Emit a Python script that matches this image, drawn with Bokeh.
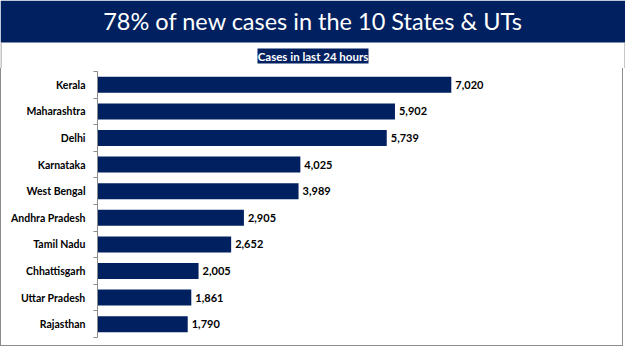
from bokeh.plotting import figure
from bokeh.layouts import column
from bokeh.models import (Range1d, LinearAxis, FixedTicker, CustomJSTickFormatter,
                          ColumnDataSource)
from bokeh.core.properties import value
from bokeh.embed import file_html
from bokeh.resources import INLINE

title_text = "78% of new cases in the 10 States & UTs"
subtitle_text = "Cases in last 24 hours"
states = ["Kerala", "Maharashtra", "Delhi", "Karnataka", "West Bengal",
          "Andhra Pradesh", "Tamil Nadu", "Chhattisgarh", "Uttar Pradesh", "Rajasthan"]
cases = [7020, 5902, 5739, 4025, 3989, 2905, 2652, 2005, 1861, 1790]

NAVY = "#002060"
GRAY = "#8c8c8c"
FONT = "Lato"

# ---------------- header (pixel-like coordinates, y downwards) ----------------
W, HH = 625, 68
h = figure(width=W, height=HH, output_backend="svg", toolbar_location=None,
           x_range=Range1d(0, W), y_range=Range1d(HH, 0),
           x_axis_location=None, y_axis_location=None,
           min_border=0, outline_line_color=None, frame_align=False,
           background_fill_color="white", border_fill_color="white")
h.xgrid.visible = False
h.ygrid.visible = False
h.quad(left=0, right=W, top=0, bottom=42, color=NAVY, line_color=None)
h.segment(x0=[0.5, 624.5], y0=[42, 42], x1=[0.5, 624.5], y1=[HH, HH],
          line_color=GRAY, line_width=1)
h.text(x=[312.5], y=[20], text=[title_text], text_align="center", text_baseline="middle",
       text_color="white", text_font=value(FONT), text_font_size="23.5px")
h.quad(left=257, right=368, top=48, bottom=63, color=NAVY, line_color=None)
h.text(x=[312.5], y=[55.5], text=[subtitle_text], text_align="center", text_baseline="middle",
       text_color="white", text_font=value(FONT), text_font_style="bold",
       text_font_size="11.5px")

# ---------------- main bar chart ----------------
n = len(states)
ypos = [i + 0.5 for i in range(n)]
src = ColumnDataSource(dict(y=ypos, v=cases, lab=[f"{c:,}" for c in cases]))

p = figure(width=623, height=278, output_backend="svg", toolbar_location=None,
           x_range=Range1d(0, 10000), y_range=Range1d(n, 0),
           x_axis_location=None, y_axis_location=None,
           min_border_left=96, min_border_right=23, min_border_top=3, min_border_bottom=9,
           outline_line_color=None, background_fill_color="white", border_fill_color="white",
           frame_align=False,
           styles={"border-left": f"1px solid {GRAY}", "border-right": f"1px solid {GRAY}",
                   "border-bottom": f"1px solid {GRAY}"})
p.xgrid.visible = False
p.ygrid.visible = False

yaxis = LinearAxis(
    ticker=FixedTicker(ticks=ypos, minor_ticks=list(range(n + 1))),
    formatter=CustomJSTickFormatter(args=dict(cats=states), code="return cats[Math.floor(tick)]"),
    axis_line_color=GRAY, axis_line_width=1,
    major_tick_line_color=None, major_tick_out=0, major_tick_in=0,
    minor_tick_line_color=GRAY, minor_tick_out=4, minor_tick_in=0,
    major_label_standoff=8,
    major_label_text_font=FONT, major_label_text_font_style="bold",
    major_label_text_font_size="10.5px", major_label_text_color="black")
p.add_layout(yaxis, "left")

p.hbar(y="y", right="v", left=0, height=0.6, source=src, color=NAVY, line_color=None)
p.text(x="v", y="y", text="lab", source=src, x_offset=4, text_baseline="middle",
       text_align="left", text_font=value(FONT), text_font_style="bold",
       text_font_size="11px", text_color="black")

layout = column(h, p, spacing=0)
open("out.html", "w").write(file_html(layout, INLINE))
